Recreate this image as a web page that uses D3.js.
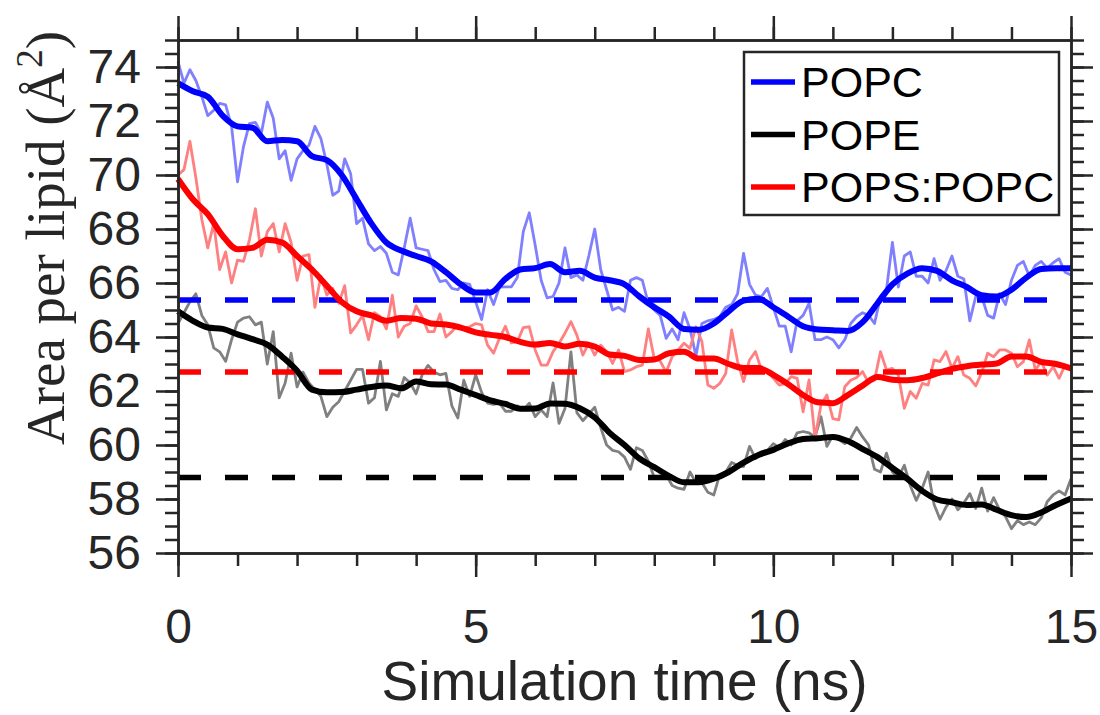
<!DOCTYPE html>
<html>
<head>
<meta charset="utf-8">
<script src="https://cdn.jsdelivr.net/npm/d3@7"></script>
<style>
  body { margin: 0; background: #fff; }
  svg { display: block; }
  text { font-family: "Liberation Sans", Arial, Helvetica, sans-serif; }
</style>
</head>
<body>
<svg id="chart"></svg>
<script>
// raw area per lipid, one value every 0.1 ns (0 .. 15 ns)
const popcRaw = [
  74.2, 73.4, 73.9, 73.5, 72.9, 72.2, 72.4, 72.65, 72.6, 71.8,
  69.75, 71.05, 71.9, 71.95, 71.55, 72.7, 72.1, 70.6, 70.9, 69.8,
  70.6, 70.9, 71.1, 71.8, 71.35, 70.4, 69.25, 69.4, 70.6, 70.05,
  68.2, 68.4, 67.45, 67.2, 67.35, 67.1, 66.4, 66.3, 67.3, 68.4,
  67.3, 67.25, 67.2, 66.5, 66.05, 66.1, 65.8, 65.75, 66.0, 65.95,
  65.3, 64.65, 65.75, 65.2, 65.85, 65.86, 65.86, 66.2, 67.9, 68.6,
  67.4, 66.1, 65.45, 65.5, 66.0, 67.3, 66.2, 66.3, 66.1, 67.0,
  68.0, 66.5, 65.75, 65.0, 65.1, 64.95, 66.1, 66.2, 66.1, 65.25,
  65.0, 64.8, 63.95, 64.3, 63.9, 64.9, 64.3, 63.3, 64.5, 64.6,
  64.65, 64.75, 65.1, 65.2, 65.6, 67.1, 65.95, 65.55, 65.5, 65.8,
  65.1, 64.4, 64.4, 63.45, 64.6, 64.8, 65.25, 63.9, 63.9, 64.0,
  63.9, 63.6, 63.9, 64.5, 64.75, 64.9, 64.8, 64.5, 65.5, 65.75,
  67.5, 65.85, 67.0, 67.15, 66.25, 66.25, 66.0, 66.9, 66.1, 66.45,
  67.0, 66.25, 66.15, 64.6, 65.5, 65.5, 64.8, 64.7, 65.6, 65.2,
  66.1, 66.65, 66.8, 66.25, 66.65, 66.8, 66.55, 66.75, 66.9, 66.4, 66.3
];
const popeRaw = [
  64.5, 64.9, 65.3, 65.6, 64.8, 64.45, 63.6, 63.45, 63.1, 63.9,
  64.55, 64.7, 64.75, 64.45, 64.55, 63.0, 64.2, 61.75, 62.3, 63.4,
  62.15, 62.7, 62.3, 62.05, 61.8, 61.05, 61.4, 61.6, 62.0, 62.4,
  62.8, 62.8, 61.55, 61.75, 63.1, 61.3, 61.9, 61.8, 62.5, 62.3,
  61.9, 62.6, 62.95, 62.7, 62.6, 62.65, 61.45, 61.0, 62.4, 61.8,
  62.6, 61.95, 61.55, 61.5, 61.55, 61.25, 61.25, 61.45, 61.3, 61.55,
  61.05, 61.3, 61.05, 62.3, 60.8, 61.35, 63.45, 61.2, 60.9, 61.15,
  61.4, 60.65, 60.0, 59.8, 59.75, 59.55, 59.1, 59.9, 59.8, 59.4,
  58.8, 58.85, 58.9, 58.5, 58.4, 58.36, 59.0, 58.6, 58.6, 58.25,
  58.15, 58.9, 59.0, 59.35, 59.25, 59.2, 59.95, 59.5, 59.75, 59.8,
  60.05, 59.9, 60.2, 60.0, 60.45, 60.5, 60.45, 60.3, 61.05, 59.95,
  60.35, 60.2, 60.05, 60.25, 60.65, 60.3, 60.0, 59.1, 59.0, 59.7,
  59.0, 58.8, 59.25, 58.5, 57.95, 58.4, 59.0, 57.8, 57.25, 57.7,
  58.0, 57.6, 57.85, 58.2, 57.65, 58.4, 57.55, 58.05, 57.6, 57.35,
  56.9, 57.2, 57.05, 57.15, 57.05, 57.3, 57.9, 58.15, 58.3, 58.15, 58.75
];
const popsRaw = [
  70.0, 70.2, 71.25, 69.9, 68.35, 67.3, 68.2, 66.5, 67.15, 66.0,
  66.85, 66.8, 67.6, 68.75, 67.0, 67.9, 68.2, 67.15, 68.2, 67.5,
  66.1, 67.0, 67.05, 65.1, 66.25, 65.55, 65.8, 65.25, 65.9, 64.15,
  64.45, 64.8, 63.9, 64.9, 64.75, 64.3, 65.55, 64.0, 64.4, 64.5,
  65.15, 64.75, 64.2, 64.2, 64.85, 64.0, 64.2, 64.45, 64.32, 64.38,
  64.5, 64.45, 63.7, 63.4, 63.95, 64.4, 63.78, 63.83, 64.35, 64.38,
  63.52, 62.96, 62.96, 63.46, 63.77, 64.14, 64.57, 64.07, 63.33, 63.77,
  63.33, 63.7, 63.46, 63.02, 63.52, 62.72, 62.78, 62.9, 62.96, 64.3,
  63.2, 63.1, 62.7, 63.27, 63.52, 63.77, 63.58, 64.38, 63.83, 62.22,
  62.1, 62.28, 62.65, 64.26, 63.09, 62.35, 63.15, 63.46, 62.78, 62.72,
  62.47, 62.22, 62.28, 62.53, 62.47, 61.23, 62.41, 60.25, 61.48, 61.85,
  60.98, 60.93, 62.16, 62.4, 62.5, 62.72, 62.3, 62.41, 63.46, 62.78,
  62.84, 62.59, 61.36, 61.98, 61.73, 62.28, 62.22, 63.15, 63.09, 63.46,
  62.84, 63.27, 62.59, 62.47, 62.19, 62.68, 63.4, 63.27, 63.52, 63.52,
  63.4, 62.9, 63.09, 63.89, 62.78, 63.09, 62.59, 62.9, 62.47, 62.96, 62.84
];

// running averages, one value every 0.25 ns
const popcSmooth = [
  73.4, 73.1, 72.9, 72.2, 71.8, 71.75, 71.25, 71.3, 71.25, 70.7, 70.55, 70.0, 69.1, 68.2, 67.5, 67.2,
  67.0, 66.8, 66.4, 65.95, 65.65, 65.65, 66.15, 66.5, 66.55, 66.7, 66.4, 66.45, 66.2, 66.1, 65.95,
  65.5, 65.1, 64.75, 64.3, 64.27, 64.5, 64.95, 65.35, 65.42, 65.1, 64.75, 64.4, 64.28, 64.25, 64.22,
  64.55, 65.25, 65.95, 66.35, 66.55, 66.45, 66.1, 65.85, 65.55, 65.5, 65.75, 66.2, 66.52, 66.55, 66.55
];
const popeSmooth = [
  64.95, 64.6, 64.35, 64.3, 64.1, 63.92, 63.72, 63.27, 62.75, 62.05, 61.95, 61.96, 62.05, 62.15, 62.2, 62.1,
  62.35, 62.25, 62.24, 62.05, 61.85, 61.65, 61.52, 61.34, 61.35, 61.54, 61.53, 61.36, 61.02, 60.45, 60.0,
  59.5, 59.18, 58.85, 58.62, 58.62, 58.75, 59.0, 59.35, 59.63, 59.82, 60.06, 60.22, 60.25, 60.3, 60.15,
  59.85, 59.55, 59.15, 58.75, 58.3, 57.98, 57.88, 57.78, 57.8, 57.6, 57.4, 57.33, 57.5, 57.78, 58.02
];
const popsSmooth = [
  69.85, 69.1, 68.55, 67.75, 67.25, 67.3, 67.6, 67.5, 67.0, 66.5, 65.9, 65.3, 64.95, 64.8, 64.6, 64.7,
  64.68, 64.5, 64.46, 64.35, 64.17, 64.08, 64.0, 63.82, 63.72, 63.78, 63.65, 63.75, 63.65, 63.35, 63.3,
  63.15, 63.17, 63.4, 63.45, 63.2, 63.2, 63.0, 62.85, 62.85, 62.6, 62.25, 61.85, 61.58, 61.55, 61.85,
  62.2, 62.52, 62.42, 62.4, 62.48, 62.65, 62.82, 62.92, 62.98, 63.02, 63.28, 63.28, 63.08, 63.0, 62.84
];

// mean values (dashed)
const meanValues = [65.37, 58.8, 62.7];
const seriesNames = ["POPC", "POPE", "POPS:POPC"];
const seriesColors = ["#0000ff", "#000000", "#ff0000"];

const xTicks = [0, 5, 10, 15];
const yTicks = [56, 58, 60, 62, 64, 66, 68, 70, 72, 74];

const width = 1100, height = 715;
const margin = { top: 40, right: 29, bottom: 162, left: 178 };
const innerWidth = width - margin.left - margin.right;
const innerHeight = height - margin.top - margin.bottom;

const svg = d3.select("#chart").attr("width", width).attr("height", height);
const chart = svg.append("g").attr("transform", `translate(${margin.left}, ${margin.top})`);

const x = d3.scaleLinear().domain([0, 15]).range([0, innerWidth]);
const y = d3.scaleLinear().domain([56, 75]).range([innerHeight, 0]);

const axisColor = "#262626";
const rawT = popcRaw.map((_, i) => i / 10);
const smoothT = popcSmooth.map((_, i) => i / 4);

const rawSeries = [popcRaw, popeRaw, popsRaw];
const smoothSeries = [popcSmooth, popeSmooth, popsSmooth];
const rawColors = ["#8080ff", "#808080", "#ff8080"];

// raw (light) lines
rawSeries.forEach((vals, s) => {
  chart.append("path")
    .datum(vals)
    .attr("fill", "none")
    .attr("stroke", rawColors[s])
    .attr("stroke-width", 2.8)
    .attr("stroke-linejoin", "round")
    .attr("d", d3.line().x((d, i) => x(rawT[i])).y((d) => y(d)));
});

// mean lines
meanValues.forEach((m, s) => {
  chart.append("line")
    .attr("x1", x(0)).attr("x2", x(15))
    .attr("y1", y(m)).attr("y2", y(m))
    .attr("stroke", seriesColors[s])
    .attr("stroke-width", 5.5)
    .attr("stroke-dasharray", "23,24");
});

// smoothed lines
smoothSeries.forEach((vals, s) => {
  chart.append("path")
    .datum(vals)
    .attr("fill", "none")
    .attr("stroke", seriesColors[s])
    .attr("stroke-width", 6)
    .attr("stroke-linejoin", "round")
    .attr("d", d3.line().curve(d3.curveMonotoneX).x((d, i) => x(smoothT[i])).y((d) => y(d)));
});

// axes: minor + major ticks on all four sides
const xMinor = d3.range(0, 16, 1);
const yMinor = d3.range(56, 75.01, 0.5);

function styleAxis(g) {
  g.selectAll("line").attr("stroke", axisColor).attr("stroke-width", 2.5);
  g.selectAll("path").attr("stroke", axisColor).attr("stroke-width", 2.5);
  g.selectAll("text").attr("fill", axisColor).style("font-size", "48px")
    .style("font-family", '"Liberation Sans", Arial, sans-serif');
}

chart.append("g").attr("transform", `translate(0, ${innerHeight})`)
  .call(d3.axisBottom(x).tickValues(xMinor).tickSize(13).tickFormat("").tickSizeOuter(0)).call(styleAxis);
chart.append("g").attr("transform", `translate(0, ${innerHeight})`)
  .call(d3.axisBottom(x).tickValues(xTicks).tickSize(24).tickPadding(32).tickFormat(d3.format("d")).tickSizeOuter(0))
  .call(styleAxis);
chart.append("g")
  .call(d3.axisTop(x).tickValues(xMinor).tickSize(13).tickFormat("").tickSizeOuter(0)).call(styleAxis);
chart.append("g")
  .call(d3.axisTop(x).tickValues(xTicks).tickSize(24).tickFormat("").tickSizeOuter(0)).call(styleAxis);

chart.append("g")
  .call(d3.axisLeft(y).tickValues(yMinor).tickSize(13).tickFormat("").tickSizeOuter(0)).call(styleAxis);
chart.append("g")
  .call(d3.axisLeft(y).tickValues(yTicks).tickSize(22).tickPadding(15).tickFormat(d3.format("d")).tickSizeOuter(0))
  .call(styleAxis);
chart.append("g").attr("transform", `translate(${innerWidth}, 0)`)
  .call(d3.axisRight(y).tickValues(yMinor).tickSize(13).tickFormat("").tickSizeOuter(0)).call(styleAxis);
chart.append("g").attr("transform", `translate(${innerWidth}, 0)`)
  .call(d3.axisRight(y).tickValues(yTicks).tickSize(22).tickFormat("").tickSizeOuter(0)).call(styleAxis);

// drop the empty labels of the tick-only axes
chart.selectAll("text").filter(function () { return this.textContent === ""; }).remove();

// axis titles
svg.append("text")
  .attr("x", margin.left + innerWidth / 2)
  .attr("y", 700)
  .attr("text-anchor", "middle")
  .attr("fill", axisColor)
  .style("font-size", "55px")
  .text("Simulation time (ns)");

const yTitle = svg.append("text")
  .attr("transform", "translate(64, 238) rotate(-90)")
  .attr("text-anchor", "middle")
  .attr("fill", axisColor)
  .style("font-family", '"Liberation Serif", "DejaVu Serif", serif')
  .style("font-size", "55px");
yTitle.append("tspan").text("Area per lipid (Å");
yTitle.append("tspan").attr("dy", -22).style("font-size", "37px").text("2");
yTitle.append("tspan").attr("dy", 22).text(")");

// legend
const legend = svg.append("g").attr("transform", "translate(744, 52)");
legend.append("rect")
  .attr("width", 315).attr("height", 163)
  .attr("fill", "#fff").attr("stroke", axisColor).attr("stroke-width", 2.5);
seriesNames.forEach((name, i) => {
  const yy = 30 + i * 52.5;
  legend.append("line")
    .attr("x1", 7).attr("x2", 51).attr("y1", yy).attr("y2", yy)
    .attr("stroke", seriesColors[i]).attr("stroke-width", 5.5);
  legend.append("text")
    .attr("x", 57).attr("y", yy + 15)
    .attr("fill", "#000")
    .style("font-size", "43px")
    .text(name);
});
</script>
</body>
</html>
